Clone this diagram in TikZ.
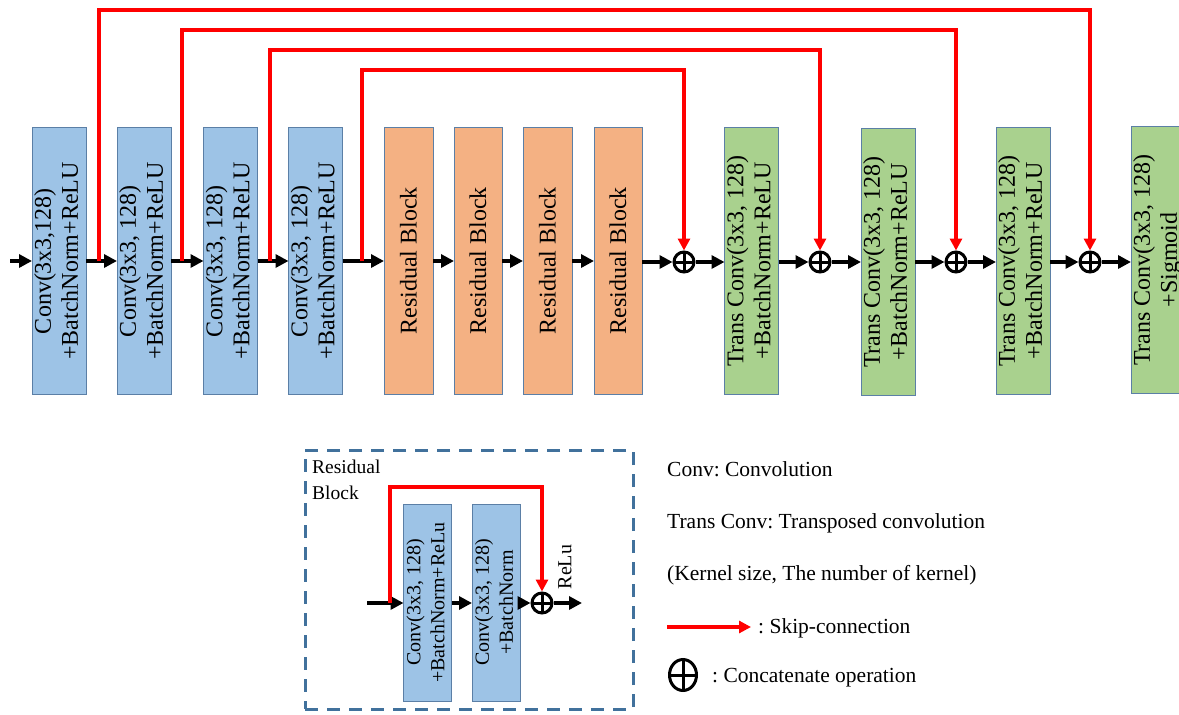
\documentclass[tikz,border=0pt]{standalone}
\usepackage{fontspec}
\setmainfont{Liberation Serif}
\usepackage{graphicx}
\usetikzlibrary{arrows.meta,shapes.geometric}
\definecolor{cblue}{HTML}{9DC3E6}
\definecolor{corange}{HTML}{F4B183}
\definecolor{cgreen}{HTML}{A9D18E}
\definecolor{cborder}{HTML}{5B7FA6}
\definecolor{cdash}{HTML}{41719C}
\newcommand\rottxt[1]{\rotatebox{90}{\begin{tabular}{@{}c@{}}#1\end{tabular}}}
\frenchspacing
\begin{document}
\begin{tikzpicture}[x=1pt,y=-1pt,
  blk/.style={draw=cborder, line width=1pt, inner sep=0pt, outer sep=0pt,
    minimum height=267pt, font=\fontsize{24}{27}\selectfont},
  enc/.style={blk, fill=cblue},
  res/.style={blk, fill=corange},
  dec/.style={blk, fill=cgreen},
  iblk/.style={draw=cborder, line width=1pt, inner sep=0pt, outer sep=0pt,
    fill=cblue, minimum width=39pt, minimum height=197pt,
    font=\fontsize{20}{24}\selectfont},
  arr/.style={line width=3.5pt, -{Triangle[length=13pt,width=13pt]}},
  skip/.style={red, line width=3.5pt, -{Triangle[length=12pt,width=12pt]}},
  plus/.style={draw, line width=3pt, circle, minimum size=20pt, inner sep=0pt,
    path picture={\draw[line width=3pt] (path picture bounding box.north) -- (path picture bounding box.south)
      (path picture bounding box.west) -- (path picture bounding box.east);}},
  legtxt/.style={anchor=base west, inner sep=0pt, font=\fontsize{21.5}{24}\selectfont},
  dashedbox/.style={draw=cdash, line width=3pt, dash pattern=on 13pt off 9pt, inner sep=0pt}
]
\useasboundingbox (0,0) rectangle (1179,715);
\clip (0,0) rectangle (1179,715);

% encoder blocks
\node[enc, minimum width=54pt] (b1) at (59,261) {\rottxt{Conv(3x3,128)\\+BatchNorm+ReLU}};
\node[enc, minimum width=52pt] (b2) at (144,261) {\rottxt{Conv(3x3, 128)\\+BatchNorm+ReLU}};
\node[enc, minimum width=53pt] (b3) at (230.5,261) {\rottxt{Conv(3x3, 128)\\+BatchNorm+ReLU}};
\node[enc, minimum width=53pt] (b4) at (315.5,261) {\rottxt{Conv(3x3, 128)\\+BatchNorm+ReLU}};
% residual blocks
\node[res, minimum width=49pt] (r1) at (408.5,261) {\rotatebox{90}{Residual Block}};
\node[res, minimum width=48pt] (r2) at (478,261) {\rotatebox{90}{Residual Block}};
\node[res, minimum width=49pt] (r3) at (547.5,261) {\rotatebox{90}{Residual Block}};
\node[res, minimum width=48pt] (r4) at (618,261) {\rotatebox{90}{Residual Block}};
% decoder blocks
\node[dec, minimum width=51pt] (t1) at (751.5,261) {\rottxt{Trans Conv(3x3, 128)\\+BatchNorm+ReLU}};
\node[dec, minimum width=52pt] (t2) at (888,262) {\rottxt{Trans Conv(3x3, 128)\\+BatchNorm+ReLU}};
\node[dec, minimum width=52pt] (t3) at (1023,261) {\rottxt{Trans Conv(3x3, 128)\\+BatchNorm+ReLU}};
\node[dec, minimum width=52pt] (t4) at (1158,260) {\rottxt{Trans Conv(3x3, 128)\\+Sigmoid}};
% concat circles
\node[plus] (c1) at (684,262) {};
\node[plus] (c2) at (820,262) {};
\node[plus] (c3) at (956,262) {};
\node[plus] (c4) at (1090,262) {};

% main chain
\coordinate (in) at (10,261);
\draw[arr] (in) -- (b1);
\foreach \a/\b in {b1/b2,b2/b3,b3/b4,b4/r1,r1/r2,r2/r3,r3/r4}
  \draw[arr] (\a) -- (\b);
\draw[arr] (r4.east |- c1) -- (c1);
\draw[arr] (c1) -- (t1.west |- c1);
\draw[arr] (t1.east |- c2) -- (c2);
\draw[arr] (c2) -- (t2.west |- c2);
\draw[arr] (t2.east |- c3) -- (c3);
\draw[arr] (c3) -- (t3.west |- c3);
\draw[arr] (t3.east |- c4) -- (c4);
\draw[arr] (c4) -- (t4.west |- c4);

% skip connections
\coordinate (s1) at (99,261);
\coordinate (s2) at (182,261);
\coordinate (s3) at (270,261);
\coordinate (s4) at (362,261);
\draw[skip] (s1) -- (99,10) -| (c4.north);
\draw[skip] (s2) -- (182,30) -| (c3.north);
\draw[skip] (s3) -- (270,50) -| (c2.north);
\draw[skip] (s4) -- (362,70) -| (c1.north);

% residual block inset
\node[dashedbox, minimum width=328pt, minimum height=259pt] (ibox) at (469,579.5) {};
\node[anchor=base west, inner sep=0pt, align=left, font=\fontsize{19.5}{26}\selectfont] (ilab) at (312,499) {Residual\\Block};
\node[iblk] (ib1) at (427.5,602.5) {\rottxt{Conv(3x3, 128)\\+BatchNorm+ReLu}};
\node[iblk] (ib2) at (496,602.5) {\rottxt{Conv(3x3, 128)\\+BatchNorm}};
\node[plus] (ic) at (542,603) {};
\coordinate (iin) at (367,603);
\coordinate (iout) at (582,603);
\coordinate (is) at (390,603);
\draw[arr] (iin) -- (ib1.west |- ic);
\draw[arr] (ib1.east |- ic) -- (ib2.west |- ic);
\draw[arr] (ib2.east |- ic) -- (ic);
\draw[arr] (ic) -- (iout);
\draw[skip] (is) -- (390,487) -| (ic.north);
\node[rotate=90, inner sep=0pt, font=\fontsize{20}{24}\selectfont] (relu) at (565,567) {ReLu};

% legend
\node[legtxt] (l1) at (667,476) {Conv: Convolution};
\node[legtxt] (l2) at (667,528) {Trans Conv: Transposed convolution};
\node[legtxt] (l3) at (667,580) {(Kernel size, The number of kernel)};
\coordinate (la) at (667,627);
\coordinate (lb) at (751,627);
\draw[skip] (la) -- (lb);
\node[legtxt] (l4) at (758,633) {: Skip-connection};
\node[plus, ellipse, minimum width=27pt, minimum height=31pt] (lc) at (683,675) {};
\node[legtxt] (l5) at (712,682) {: Concatenate operation};
\end{tikzpicture}
\end{document}
